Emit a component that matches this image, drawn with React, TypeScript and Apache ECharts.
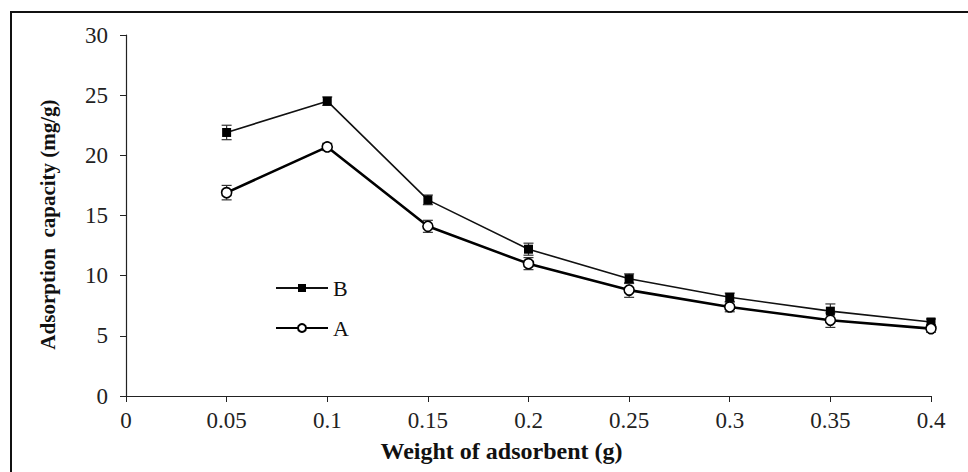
import React, { useEffect, useRef } from "react";
import * as echarts from "echarts";

// Adsorbent dose (g) and adsorption capacity (mg/g) for two materials
const doses = [0.05, 0.1, 0.15, 0.2, 0.25, 0.3, 0.35, 0.4];
const capacityB = [21.9, 24.5, 16.3, 12.2, 9.75, 8.2, 7.05, 6.15];
const capacityA = [16.9, 20.7, 14.1, 11.0, 8.8, 7.4, 6.3, 5.6];
const errorB = [0.6, 0.35, 0.4, 0.5, 0.4, 0.35, 0.6, 0.25];
const errorA = [0.6, 0.3, 0.5, 0.5, 0.6, 0.4, 0.6, 0.3];

const FONT = "'Liberation Serif', 'Times New Roman', serif";

function errorSeries(name: string, values: number[], errs: number[]) {
  return {
    type: "custom",
    name: name + "-err",
    z: 1,
    silent: true,
    data: doses.map((d, i) => [d, values[i] - errs[i], values[i] + errs[i]]),
    renderItem: (_params: any, api: any) => {
      const x = api.value(0);
      const lo = api.coord([x, api.value(1)]);
      const hi = api.coord([x, api.value(2)]);
      const half = 5;
      const style = { stroke: "#333", lineWidth: 1.2 };
      return {
        type: "group",
        children: [
          { type: "line", shape: { x1: lo[0], y1: lo[1], x2: hi[0], y2: hi[1] }, style },
          { type: "line", shape: { x1: lo[0] - half, y1: lo[1], x2: lo[0] + half, y2: lo[1] }, style },
          { type: "line", shape: { x1: hi[0] - half, y1: hi[1], x2: hi[0] + half, y2: hi[1] }, style },
        ],
      };
    },
  };
}

export default function App() {
  const ref = useRef<HTMLDivElement>(null);

  useEffect(() => {
    if (!ref.current) return;
    const chart = echarts.init(ref.current, undefined, { renderer: "svg" });
    chart.setOption({
      animation: false,
      backgroundColor: "#fff",
      textStyle: { fontFamily: FONT },
      grid: { left: 126, right: 37, top: 35, bottom: 76 },
      xAxis: {
        type: "value",
        min: 0,
        max: 0.4,
        interval: 0.05,
        name: "Weight of adsorbent (g)",
        nameLocation: "middle",
        nameGap: 43,
        nameTextStyle: {
          fontFamily: FONT,
          fontSize: 24,
          fontWeight: "bold",
          color: "#111",
          padding: [0, 54, 0, 0],
        },
        axisLine: { lineStyle: { color: "#222", width: 1.2 } },
        axisTick: { show: true, inside: false, length: 6, lineStyle: { color: "#222" } },
        axisLabel: {
          fontFamily: FONT,
          fontSize: 23,
          color: "#222",
          margin: 13,
          formatter: (v: number) => String(+v.toFixed(2)),
        },
        splitLine: { show: false },
      },
      yAxis: {
        type: "value",
        min: 0,
        max: 30,
        interval: 5,
        name: "Adsorption  capacity (mg/g)",
        nameLocation: "middle",
        nameGap: 68,
        nameTextStyle: {
          fontFamily: FONT,
          fontSize: 21,
          fontWeight: "bold",
          color: "#111",
          padding: [0, 18, 0, 0],
        },
        axisLine: { show: true, lineStyle: { color: "#222", width: 1.2 } },
        axisTick: { show: true, inside: false, length: 6, lineStyle: { color: "#222" } },
        axisLabel: { fontFamily: FONT, fontSize: 23, color: "#222", margin: 18 },
        splitLine: { show: false },
      },
      legend: {
        orient: "vertical",
        left: 270,
        top: 272,
        itemWidth: 52,
        itemHeight: 10,
        itemGap: 18,
        data: ["B", "A"],
        textStyle: { fontFamily: FONT, fontSize: 22, color: "#111" },
      },
      graphic: [
        {
          type: "rect",
          shape: { x: 11, y: 12, width: 1000, height: 520 },
          style: { fill: "none", stroke: "#111", lineWidth: 2 },
          z: 100,
        },
      ],
      series: [
        errorSeries("B", capacityB, errorB),
        errorSeries("A", capacityA, errorA),
        {
          type: "line",
          name: "B",
          z: 3,
          data: doses.map((d, i) => [d, capacityB[i]]),
          symbol: "rect",
          symbolSize: 9,
          itemStyle: { color: "#000", borderColor: "#000", borderWidth: 0 },
          lineStyle: { color: "#111", width: 1.6 },
        },
        {
          type: "line",
          name: "A",
          z: 4,
          data: doses.map((d, i) => [d, capacityA[i]]),
          symbol: "circle",
          symbolSize: 10,
          showAllSymbol: true,
          itemStyle: { color: "#fff", borderColor: "#000", borderWidth: 1.6 },
          lineStyle: { color: "#000", width: 2.6 },
        },
      ],
    });
    return () => chart.dispose();
  }, []);

  return (
    <div
      ref={ref}
      style={{ position: "fixed", left: 0, top: 0, width: 968, height: 472 }}
    />
  );
}
